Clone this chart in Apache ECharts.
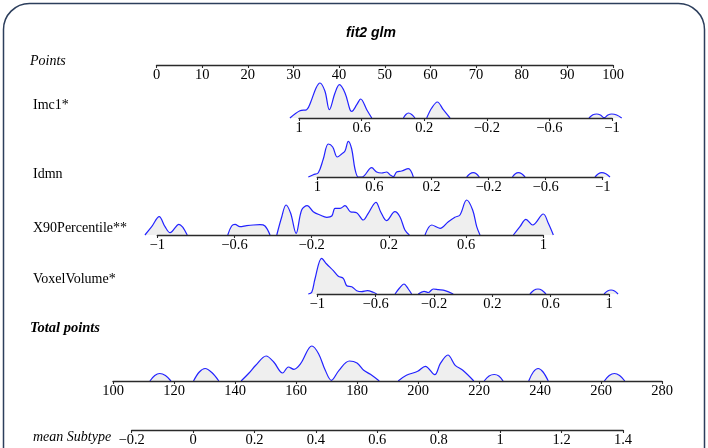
<!DOCTYPE html>
<html><head><meta charset="utf-8">
<script src="https://cdn.jsdelivr.net/npm/echarts@6/dist/echarts.min.js"></script>
<style>html,body{margin:0;padding:0;background:#fff}#c{width:708px;height:448px}</style>
</head><body><div id="c"></div>
<script>
// ---- tick labels ----
const pointsTicks = [0,10,20,30,40,50,60,70,80,90,100];
const featTicks = [1,0.6,0.2,-0.2,-0.6,-1];
const x90Ticks = [-1,-0.6,-0.2,0.2,0.6,1];
const totalTicks = [100,120,140,160,180,200,220,240,260,280];
const meanTicks = [-0.2,0,0.2,0.4,0.6,0.8,1,1.2,1.4];
const rowLabels = ['Points','Imc1*','Idmn','X90Percentile**','VoxelVolume*','Total points','mean Subtype'];

// ---- density curves: [value, height] ; null height = gap ----
const imc1Density = [[1.058,0],[0.994,7.3],[0.951,8.3],[0.925,16],[0.891,30],[0.866,35],[0.834,26.7],[0.806,8.3],[0.770,25],[0.742,33.3],[0.706,25],[0.674,8.3],[0.663,6.7],[0.631,13.3],[0.606,19],[0.567,8.3],[0.535,0],[0.45,null],
  [0.333,0],[0.317,3.5],[0.301,5],[0.280,3.5],[0.259,0],[0.22,null],
  [0.184,0],[0.152,10],[0.116,16],[0.078,8.3],[0.035,0],[-0.4,null],
  [-0.853,0],[-0.878,3.2],[-0.902,4],[-0.926,3],[-0.950,0.3],[-0.974,3],[-0.998,4],[-1.030,3],[-1.062,0]];
const idmnDensity = [[1.063,0],[1.028,2.3],[0.993,4.3],[0.958,18],[0.923,33],[0.892,30],[0.860,20],[0.829,23],[0.806,26],[0.783,35.7],[0.759,28],[0.736,8],[0.713,0],[0.687,0],
  [0.619,9.3],[0.584,5],[0.549,4],[0.514,5],[0.486,1.7],[0.467,0.3],[0.444,5],[0.409,6],[0.362,8.3],[0.327,0],[0.2,null],
  [-0.047,0],[-0.070,3.2],[-0.093,4.3],[-0.114,3.2],[-0.135,0],[-0.25,null],
  [-0.367,0],[-0.388,3.2],[-0.409,4.3],[-0.432,3.2],[-0.456,0],[-0.7,null],
  [-0.946,0],[-0.970,3.2],[-0.993,4.3],[-1.022,3.2],[-1.051,0]];
const x90Density = [[-1.064,0],[-1.029,8.3],[-0.990,18.3],[-0.960,8.3],[-0.934,2.3],[-0.888,10.7],[-0.845,0],[-0.75,null],
  [-0.635,0],[-0.615,9],[-0.597,10.7],[-0.572,8.3],[-0.537,9.3],[-0.503,10],[-0.468,10.3],[-0.442,9],[-0.416,0],[-0.4,null],
  [-0.381,0],[-0.355,18.3],[-0.333,30],[-0.309,21.7],[-0.281,1.7],[-0.252,25],[-0.223,29.3],[-0.192,23.3],[-0.157,20],[-0.122,17.7],[-0.096,19],[-0.079,26.7],[-0.053,26.7],[-0.027,29.3],[0.000,23.3],[0.033,22.3],[0.067,15],[0.093,21.7],[0.133,32.7],[0.157,23.3],[0.188,14.3],[0.231,23.3],[0.257,18.3],[0.283,5],[0.306,0],[0.35,null],
  [0.387,0],[0.422,10],[0.465,6.7],[0.508,13.3],[0.542,17.7],[0.568,20],[0.603,35],[0.634,25],[0.655,8.3],[0.672,0],[0.75,null],
  [0.845,0],[0.879,8.3],[0.910,15.7],[0.945,10],[1.000,21],[1.026,11.7],[1.052,0]];
const voxelDensity = [[-1.062,0],[-1.038,1.7],[-1.016,15],[-0.970,35.7],[-0.936,30],[-0.890,23.3],[-0.856,17.7],[-0.822,15.7],[-0.798,8.3],[-0.764,7.3],[-0.730,3.3],[-0.696,2.3],[-0.657,3.3],[-0.616,1.7],[-0.593,0],[-0.5,null],
  [-0.467,0],[-0.436,6],[-0.406,10],[-0.376,5],[-0.353,0],[-0.33,null],
  [-0.308,0],[-0.268,2.7],[-0.239,1.5],[-0.205,5],[-0.170,4.3],[-0.124,3.3],[-0.068,0],[0.2,null],
  [0.458,0],[0.485,3.8],[0.513,5],[0.540,3.8],[0.568,0],[0.8,null],
  [0.966,0],[0.990,3],[1.014,4],[1.038,3],[1.062,0]];
const totalDensity = [[112.1,0],[113.7,5.5],[115.3,7.5],[117.2,5.5],[119.0,0],[123,null],
  [126.4,0],[128.3,9],[130.2,12.5],[132.4,8.5],[134.7,0],[138,null],
  [142.0,0],[144.6,8],[146.8,15.7],[150.2,25],[152.7,19],[155.6,8],[157.5,14],[159.3,11.7],[161.5,17.3],[165.2,35],[167.4,27.3],[169.6,10.7],[171.6,0.7],[174.1,10.7],[177.5,20],[180.0,18],[182.2,10.7],[184.4,6.7],[187.3,0],[190,null],
  [193.5,0],[196.2,5.7],[199.9,9.7],[202.4,14.7],[205.5,6.3],[207.3,17.3],[209.8,26],[212.2,15.7],[214.7,10.7],[218.3,0],[220,null],
  [221.7,0],[223.3,5],[225.0,6.5],[226.5,5],[227.9,0],[232,null],
  [236.3,0],[237.8,9],[239.4,12.5],[241.0,9],[242.7,0],[250,null],
  [261.1,0],[262.7,5.5],[264.4,7.5],[266.1,5.5],[267.8,0]];

const rows = [
  {left:156.5, right:613,   base:65,  min:0,   max:100, inverse:false, ticks:pointsTicks, data:null},
  {left:299,   right:612,   base:118, min:-1,  max:1,   inverse:true,  ticks:featTicks,   data:imc1Density},
  {left:317.3, right:602.7, base:177, min:-1,  max:1,   inverse:true,  ticks:featTicks,   data:idmnDensity},
  {left:157.3, right:543.3, base:235, min:-1,  max:1,   inverse:false, ticks:x90Ticks,    data:x90Density},
  {left:317.3, right:609,   base:294, min:-1,  max:1,   inverse:false, ticks:x90Ticks,    data:voxelDensity},
  {left:113,   right:662,   base:381, min:100, max:280, inverse:false, ticks:totalTicks,  data:totalDensity},
  {left:131.6, right:623,   base:430, min:-0.2,max:1.4, inverse:false, ticks:meanTicks,   data:null}
];
const H = 40, PAD = 0.06; // series grids are widened so curve tails past the axis ends stay visible
const fmt = v => String(+v.toFixed(2)).replace('-', '\u2212');
const grid=[], xAxis=[], yAxis=[], series=[];
rows.forEach((r,i)=>{
  const w = r.right - r.left, span = r.max - r.min;
  grid.push({left:r.left, width:w, top:r.base-H, height:H});
  xAxis.push({type:'value', gridIndex:grid.length-1, min:r.min, max:r.max, inverse:r.inverse, position:'bottom', z:3,
    axisLine:{show:true, onZero:false, lineStyle:{color:'#2a2a2a', width:1.3}},
    axisTick:{show:true, length:3, lineStyle:{color:'#2a2a2a', width:1.1}, customValues:r.ticks},
    axisLabel:{show:true, customValues:r.ticks, formatter:fmt, margin:3, color:'#000', fontFamily:'Liberation Serif', fontSize:14.5},
    splitLine:{show:false}});
  yAxis.push({type:'value', gridIndex:grid.length-1, min:0, max:H, show:false});
  if (r.data) {
    grid.push({left:r.left - w*PAD, width:w*(1+2*PAD), top:r.base-H, height:H});
    const gi = grid.length-1;
    xAxis.push({type:'value', gridIndex:gi, min:r.min - span*PAD, max:r.max + span*PAD, inverse:r.inverse, show:false});
    yAxis.push({type:'value', gridIndex:gi, min:0, max:H, show:false});
    series.push({type:'line', xAxisIndex:gi, yAxisIndex:gi, data:r.data, smooth:0.35, showSymbol:false, symbol:'none',
      clip:false, connectNulls:false, lineStyle:{color:'#2222ff', width:1.2}, areaStyle:{color:'#efefef', opacity:1}, z:2, silent:true});
  }
});
const labelY = [61,105,174,228,279,328,437];
const labelStyle = [
  'italic normal 14px "Liberation Serif"', 'normal 14px "Liberation Serif"', 'normal 14px "Liberation Serif"',
  'normal 14px "Liberation Serif"', 'normal 14px "Liberation Serif"', 'italic bold 14.5px "Liberation Serif"', 'italic normal 14px "Liberation Serif"'];
const graphic = [
  {type:'rect', shape:{x:3.5, y:3.5, width:701, height:560, r:26}, style:{fill:'none', stroke:'#2c3e5c', lineWidth:1.5}, z:100},
  {type:'text', style:{x:371, y:33, text:'fit2 glm', font:'italic bold 14px "Liberation Sans"', fill:'#000', align:'center', verticalAlign:'middle'}}
];
rowLabels.forEach((t,i)=>{
  graphic.push({type:'text', style:{x:(i===0||i===5)?30:33, y:labelY[i], text:t, font:labelStyle[i], fill:'#000', verticalAlign:'middle'}});
});
const chart = echarts.init(document.getElementById('c'), null, {renderer:'canvas'});
chart.setOption({animation:false, backgroundColor:'#fff', grid, xAxis, yAxis, series, graphic});
</script></body></html>
